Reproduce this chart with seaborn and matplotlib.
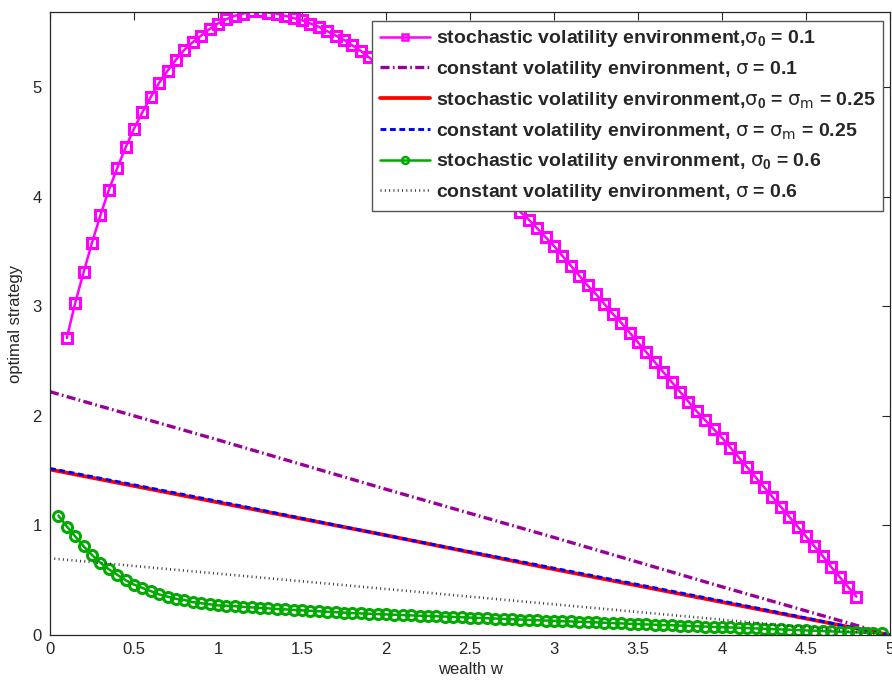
import numpy as np
import pandas as pd
import matplotlib
matplotlib.use("Agg")
import matplotlib.pyplot as plt
import seaborn as sns

# ---------------- data ----------------
x_sv_low = [0.10, 0.15, 0.20, 0.25, 0.30, 0.35, 0.40, 0.45, 0.50, 0.55,
            0.60, 0.65, 0.70, 0.75, 0.80, 0.85, 0.90, 0.95, 1.00, 1.05,
            1.10, 1.15, 1.20, 1.25, 1.30, 1.35, 1.40, 1.45, 1.50, 1.55,
            1.60, 1.65, 1.70, 1.75, 1.80, 1.85, 1.90, 1.95, 2.00, 2.05,
            2.10, 2.15, 2.20, 2.25, 2.30, 2.35, 2.40, 2.45, 2.50, 2.55,
            2.60, 2.65, 2.70, 2.75, 2.80, 2.85, 2.90, 2.95, 3.00, 3.05,
            3.10, 3.15, 3.20, 3.25, 3.30, 3.35, 3.40, 3.45, 3.50, 3.55,
            3.60, 3.65, 3.70, 3.75, 3.80, 3.85, 3.90, 3.95, 4.00, 4.05,
            4.10, 4.15, 4.20, 4.25, 4.30, 4.35, 4.40, 4.45, 4.50, 4.55,
            4.60, 4.65, 4.70, 4.75, 4.80]
y_sv_low = [2.71, 3.03, 3.31, 3.58, 3.83, 4.06, 4.26, 4.45, 4.62, 4.77,
            4.91, 5.04, 5.15, 5.25, 5.34, 5.41, 5.47, 5.53, 5.58, 5.62,
            5.65, 5.67, 5.69, 5.69, 5.68, 5.67, 5.65, 5.63, 5.61, 5.58,
            5.55, 5.51, 5.47, 5.43, 5.38, 5.33, 5.27, 5.20, 5.13, 5.05,
            4.97, 4.89, 4.81, 4.73, 4.65, 4.57, 4.49, 4.41, 4.33, 4.25,
            4.17, 4.09, 4.01, 3.94, 3.86, 3.79, 3.71, 3.63, 3.55, 3.46,
            3.37, 3.28, 3.19, 3.11, 3.02, 2.93, 2.85, 2.76, 2.67, 2.58,
            2.49, 2.40, 2.31, 2.22, 2.13, 2.04, 1.96, 1.88, 1.80, 1.71,
            1.62, 1.53, 1.44, 1.35, 1.26, 1.17, 1.08, 0.99, 0.90, 0.81,
            0.72, 0.62, 0.53, 0.44, 0.35]

x_const = [0.0, 1.0, 2.0, 3.0, 4.0, 5.0]
y_cv_low = [2.22, 1.78, 1.33, 0.89, 0.44, 0.00]
y_sv_mid = [1.51, 1.21, 0.91, 0.60, 0.30, 0.00]
y_cv_mid = [1.52, 1.22, 0.91, 0.61, 0.31, 0.00]
y_cv_high = [0.70, 0.56, 0.42, 0.28, 0.14, 0.00]

x_sv_high = [0.05, 0.10, 0.15, 0.20, 0.25, 0.30, 0.35, 0.40, 0.45, 0.50,
             0.55, 0.60, 0.65, 0.70, 0.75, 0.80, 0.85, 0.90, 0.95, 1.00,
             1.05, 1.10, 1.15, 1.20, 1.25, 1.30, 1.35, 1.40, 1.45, 1.50,
             1.55, 1.60, 1.65, 1.70, 1.75, 1.80, 1.85, 1.90, 1.95, 2.00,
             2.05, 2.10, 2.15, 2.20, 2.25, 2.30, 2.35, 2.40, 2.45, 2.50,
             2.55, 2.60, 2.65, 2.70, 2.75, 2.80, 2.85, 2.90, 2.95, 3.00,
             3.05, 3.10, 3.15, 3.20, 3.25, 3.30, 3.35, 3.40, 3.45, 3.50,
             3.55, 3.60, 3.65, 3.70, 3.75, 3.80, 3.85, 3.90, 3.95, 4.00,
             4.05, 4.10, 4.15, 4.20, 4.25, 4.30, 4.35, 4.40, 4.45, 4.50,
             4.55, 4.60, 4.65, 4.70, 4.75, 4.80, 4.85, 4.90, 4.95]
y_sv_high = [1.09, 0.99, 0.90, 0.81, 0.73, 0.66, 0.60, 0.55, 0.50, 0.46,
             0.43, 0.40, 0.37, 0.35, 0.33, 0.32, 0.30, 0.29, 0.28, 0.27,
             0.267, 0.263, 0.257, 0.252, 0.247, 0.243, 0.238, 0.234, 0.229, 0.225,
             0.221, 0.216, 0.212, 0.208, 0.204, 0.200, 0.197, 0.194, 0.191, 0.188,
             0.185, 0.182, 0.179, 0.176, 0.174, 0.171, 0.168, 0.165, 0.162, 0.159,
             0.156, 0.153, 0.150, 0.147, 0.144, 0.141, 0.138, 0.135, 0.132, 0.129,
             0.126, 0.124, 0.121, 0.118, 0.115, 0.112, 0.109, 0.106, 0.103, 0.100,
             0.097, 0.094, 0.091, 0.089, 0.086, 0.083, 0.080, 0.077, 0.074, 0.071,
             0.069, 0.066, 0.063, 0.060, 0.057, 0.054, 0.051, 0.048, 0.045, 0.042,
             0.039, 0.036, 0.033, 0.030, 0.027, 0.024, 0.021, 0.018, 0.015]

labels = [
    r"stochastic volatility environment,$\sigma_0$ = 0.1",
    r"constant volatility environment, $\sigma$ = 0.1",
    r"stochastic volatility environment,$\sigma_0$ = $\sigma_m$ = 0.25",
    r"constant volatility environment, $\sigma$ = $\sigma_m$ = 0.25",
    r"stochastic volatility environment, $\sigma_0$ = 0.6",
    r"constant volatility environment, $\sigma$ = 0.6",
]
x_ticks = [0, 0.5, 1, 1.5, 2, 2.5, 3, 3.5, 4, 4.5, 5]
x_tick_labels = ["0", "0.5", "1", "1.5", "2", "2.5", "3", "3.5", "4", "4.5", "5"]
y_ticks = [0, 1, 2, 3, 4, 5]
y_tick_labels = ["0", "1", "2", "3", "4", "5"]

# ---------------- style ----------------
sns.set_theme(style="white")
plt.rcParams["font.family"] = ["Liberation Sans", "DejaVu Sans"]
plt.rcParams["mathtext.fontset"] = "custom"
plt.rcParams["mathtext.rm"] = "Liberation Sans:bold"
plt.rcParams["mathtext.it"] = "DejaVu Sans"
plt.rcParams["lines.scale_dashes"] = False

fig = plt.figure(figsize=(8.92, 6.84), dpi=100)
ax = fig.add_axes([50 / 892, 49 / 684, 840 / 892, 623 / 684])

dark = "#262626"

sns.lineplot(x=x_sv_low, y=y_sv_low, ax=ax, sort=False, color="#FF00FF",
             linewidth=1.8, marker="s", markersize=7.2,
             markeredgecolor="#FF00FF", markeredgewidth=2.2,
             markerfacecolor="none", label=labels[0])
sns.lineplot(x=x_const, y=y_cv_low, ax=ax, sort=False, color="#990099",
             linewidth=2.4, linestyle=(0, (6.5, 2.4, 1.2, 2.4)),
             label=labels[1])
sns.lineplot(x=x_const, y=y_sv_mid, ax=ax, sort=False, color="#FF0000",
             linewidth=2.7, linestyle="-", label=labels[2])
sns.lineplot(x=x_const, y=y_cv_mid, ax=ax, sort=False, color="#0000FF",
             linewidth=2.1, linestyle=(0, (4.2, 2.6)), label=labels[3])
sns.lineplot(x=x_sv_high, y=y_sv_high, ax=ax, sort=False, color="#00AA00",
             linewidth=1.8, marker="o", markersize=7.2,
             markeredgecolor="#00AA00", markeredgewidth=2.2,
             markerfacecolor="none", label=labels[4])
sns.lineplot(x=x_const, y=y_cv_high, ax=ax, sort=False, color="#333333",
             linewidth=1.9, linestyle=(0, (0.7, 2.4)), label=labels[5])

ax.set_xlim(0, 5)
ax.set_ylim(0, 5.685)
ax.set_xticks(x_ticks)
ax.set_xticklabels(x_tick_labels)
ax.set_yticks(y_ticks)
ax.set_yticklabels(y_tick_labels)
ax.tick_params(direction="in", length=6, width=0.8, top=True, right=True,
               labelsize=12, colors=dark, pad=5)
ax.tick_params(axis="y", pad=6)
for s in ax.spines.values():
    s.set_color(dark)
    s.set_linewidth(0.9)
    s.set_visible(True)

ax.set_xlabel("wealth w", fontsize=12, color=dark, labelpad=4)
ax.set_ylabel("optimal strategy", fontsize=12, color=dark, labelpad=7)

leg = ax.legend(loc="upper right", bbox_to_anchor=(0.992, 0.986),
                borderaxespad=0, frameon=True, fancybox=False, shadow=False,
                framealpha=1, edgecolor="#555555",
                prop={"weight": "bold", "size": 14},
                handlelength=2.6, handletextpad=0.3, labelspacing=0.5,
                borderpad=0.4)
leg.get_frame().set_linewidth(1.0)
for h in leg.legend_handles:
    if h.get_marker() not in (None, "None", ""):
        h.set_markersize(5)
        h.set_markeredgewidth(1.8)

fig.savefig("out.png", dpi=100)
